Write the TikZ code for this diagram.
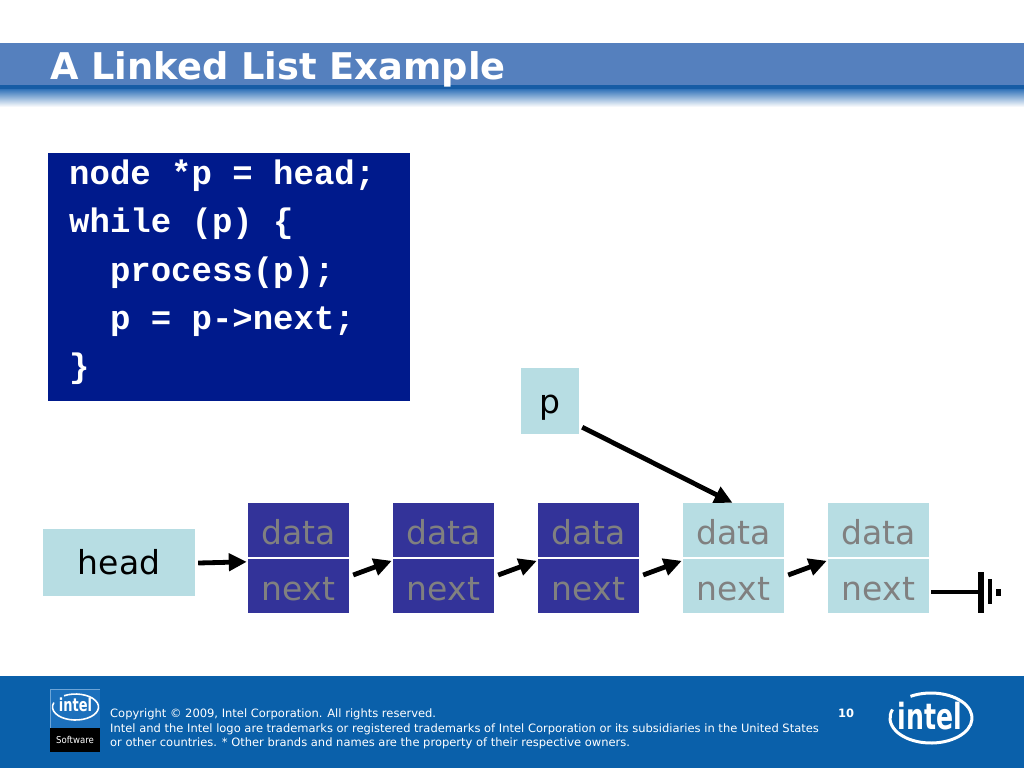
\documentclass[tikz,border=0pt]{standalone}
\usepackage{fontspec}
\setmainfont{DejaVu Sans}
\newfontfamily\codefont{Liberation Mono}
\usetikzlibrary{arrows.meta}
\definecolor{titleblue}{RGB}{85,128,190}
\definecolor{stripblue}{RGB}{22,92,165}
\definecolor{fadeblue}{RGB}{50,115,185}
\definecolor{codeblue}{RGB}{0,26,140}
\definecolor{darkbox}{RGB}{51,51,153}
\definecolor{lightbox}{RGB}{183,221,227}
\definecolor{celltext}{RGB}{128,128,128}
\definecolor{footblue}{RGB}{10,96,170}
\definecolor{logoblue}{RGB}{28,112,188}
\definecolor{logoedge}{RGB}{110,165,215}
\tikzset{
  cell/.style={inner sep=0pt, minimum width=101pt, minimum height=54pt, text height=28pt, text depth=0pt, text=celltext, font=\fontsize{33}{33}\selectfont},
  lbox/.style={fill=lightbox, inner sep=0pt, font=\fontsize{33}{33}\selectfont},
  codeline/.style={anchor=base west, inner sep=0pt, text=white, font=\codefont\bfseries\fontsize{34}{34}\selectfont},
  arr/.style={line width=4.8pt, -{Triangle[length=18pt,width=17pt]}},
  foottext/.style={anchor=base west, inner sep=0pt, text=white, font=\fontsize{11.5}{11.5}\selectfont}
}
\begin{document}
\begin{tikzpicture}[x=1pt,y=-1pt]
\useasboundingbox (0,0) rectangle (1024,768);
\fill[white] (0,0) rectangle (1024,768);
% title bar
\fill[titleblue] (0,43) rectangle (1024,85);
\fill[stripblue] (0,85) rectangle (1024,89);
\shade[top color=fadeblue, bottom color=white] (0,89) rectangle (1024,107);
\node[anchor=base west, inner sep=0pt, text=white, font=\bfseries\fontsize{36.8}{36.8}\selectfont] (title) at (50,79) {A Linked List Example};
% code box
\node[fill=codeblue, inner sep=0pt, minimum width=362pt, minimum height=248pt] (code) at (229,277) {};
\node[codeline] (c1) at (69,184.5) {node *p = head;};
\node[codeline] (c2) at (69,232.7) {while (p) \{};
\node[codeline] (c3) at (69,281) {\ \ process(p);};
\node[codeline] (c4) at (69,329) {\ \ p = p->next;};
\node[codeline] (c5) at (69,377) {\}};
% p and head
\node[lbox, minimum width=58pt, minimum height=66pt, text height=24pt, text depth=0pt] (p) at (550,401) {p};
\node[lbox, minimum width=152pt, minimum height=67pt] (head) at (119,562.5) {head};
% list cells
\foreach \i/\c in {1/darkbox,2/darkbox,3/darkbox,4/lightbox,5/lightbox}{
  \node[cell, fill=\c] (d\i) at ({298.5+145*(\i-1)},530) {data};
  \node[cell, fill=\c] (n\i) at ({298.5+145*(\i-1)},586) {next};
}
% arrows
\draw[arr] ([xshift=3pt,yshift=-0.5pt]head.east) -- ([xshift=-1pt,yshift=-3pt]n1.north west);
\foreach \a/\b in {1/2,2/3,3/4,4/5}{
  \draw[arr] ([xshift=4pt,yshift=11pt]n\a.east) -- ([xshift=-1pt,yshift=-2pt]n\b.north west);
}
\draw[arr] ([xshift=3pt,yshift=7pt]p.south east) -- ([xshift=-1pt]d4.north);
% ground
\coordinate (g) at (981,592);
\draw[line width=4pt] ([xshift=2pt,yshift=-6pt]n5.east) -- (g);
\fill (978,572) rectangle (984,613);
\fill (988,579) rectangle (992,604);
\fill (996,589) rectangle (1001,596);
% footer
\fill[footblue] (0,676) rectangle (1024,768);
\fill[logoblue] (50.5,689.5) rectangle (99.5,728);
\draw[logoedge, line width=1.2pt] (50.5,728) -- (50.5,689.5) -- (99.5,689.5);
\fill[black] (50,728) rectangle (100,752);
\node[inner sep=0pt, text=white, font=\bfseries\fontsize{18}{18}\selectfont] (lintel) at (75.5,705) {\scalebox{0.72}[1]{intel}};
\draw[white, line width=1.6pt] (75.5,707) ++(240:23 and 13) arc[start angle=240, end angle=560, x radius=23, y radius=13];
\node[inner sep=0pt, text=white, font=\fontsize{9.5}{9.5}\selectfont] (soft) at (75,740) {\scalebox{0.9}[1]{Software}};
\node[foottext] (f1) at (110,717.5) {Copyright © 2009, Intel Corporation. All rights reserved.};
\node[foottext] (f2) at (110,732) {Intel and the Intel logo are trademarks or registered trademarks of Intel Corporation or its subsidiaries in the United States};
\node[foottext] (f3) at (110,746) {or other countries. * Other brands and names are the property of their respective owners.};
\node[foottext, font=\bfseries\fontsize{11.5}{11.5}\selectfont] (pg) at (838,717) {10};
\node[inner sep=0pt, text=white, font=\bfseries\fontsize{36}{36}\selectfont] (rintel) at (930,716) {\scalebox{0.7}[1]{intel}};
\draw[white, line width=3pt] (931,718) ++(240:41 and 25) arc[start angle=240, end angle=560, x radius=41, y radius=25];
\end{tikzpicture}
\end{document}
